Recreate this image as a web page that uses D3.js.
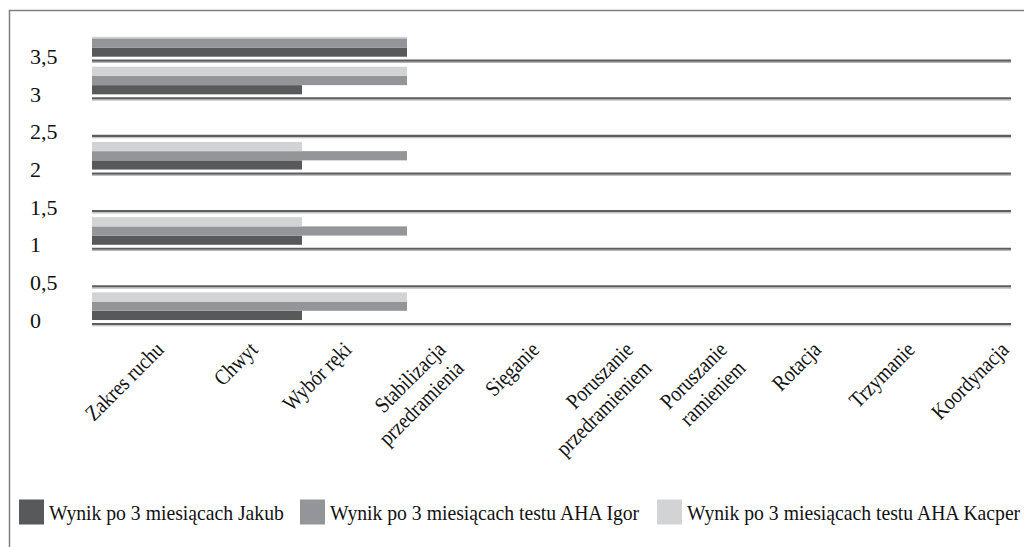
<!DOCTYPE html>
<html><head><meta charset="utf-8">
<script src="https://cdn.jsdelivr.net/npm/d3@7/dist/d3.min.js"></script>
<style>
html,body{margin:0;padding:0;background:#fff;}
svg{display:block;font-family:"Liberation Serif","Times New Roman",serif;}
</style></head>
<body>
<svg id="chart" width="1024" height="547"></svg>
<script>
// ---- data ----
const categories = ["Zakres ruchu","Chwyt","Wybór ręki","Stabilizacja\nprzedramienia","Sięganie",
  "Poruszanie\nprzedramieniem","Poruszanie\nramieniem","Rotacja","Trzymanie","Koordynacja"];
const seriesNames = ["Wynik po 3 miesiącach Jakub","Wynik po 3 miesiącach testu AHA Igor","Wynik po 3 miesiącach testu AHA Kacper"];
const seriesColors = ["#58595b","#939598","#d1d3d4"];
const yTicks = [0,0.5,1,1.5,2,2.5,3,3.5];
const groupBase = [0,1,2,3,3.5];           // y-value where each bar group sits
const jakub  = [2,2,2,2,3];
const igor   = [3,3,3,3,3];
const kacper = [3,2,2,3,3];

const svg = d3.select("#chart");
const plotLeft = 92, plotRight = 1011, plotTop = 36.7;
const textColor = "#111";

const y = d3.scaleLinear().domain([0,3.5]).range([324,60.7]);
const x = d3.scaleLinear().domain([0,3]).range([plotLeft,407]);
const inner = d3.scaleBand().domain(d3.range(seriesNames.length)).range([0.053,0.42]).padding(0);
const labelX = d3.scalePoint().domain(categories).range([165,1010]);

// frame
svg.append("rect").attr("x",9.5).attr("y",10.5).attr("width",1030).attr("height",560)
  .attr("fill","none").attr("stroke","#808080").attr("stroke-width",1.5);

// clip
svg.append("defs").append("clipPath").attr("id","plotclip").append("rect")
  .attr("x",plotLeft).attr("y",plotTop).attr("width",plotRight-plotLeft).attr("height",y(0)-plotTop+2);

// gridlines
const grid = svg.append("g");
grid.selectAll("line.g1").data(yTicks).join("line").attr("class","g1")
  .attr("x1",plotLeft).attr("x2",plotRight).attr("y1",d=>y(d)).attr("y2",d=>y(d))
  .attr("stroke","#5e5e5e").attr("stroke-width",2.2);
grid.selectAll("line.g2").data(yTicks).join("line").attr("class","g2")
  .attr("x1",plotLeft).attr("x2",plotRight).attr("y1",d=>y(d)+1.8).attr("y2",d=>y(d)+1.8)
  .attr("stroke","#b5b5b5").attr("stroke-width",1);

// bars
const seriesVals = [jakub, igor, kacper];
const bars = [];
groupBase.forEach((b,gi)=>{
  seriesVals.forEach((vals,si)=>{
    bars.push({base:b, s:si, v:vals[gi]});
  });
});
svg.append("g").attr("clip-path","url(#plotclip)")
  .selectAll("rect").data(bars).join("rect")
  .attr("x",x(0))
  .attr("width",d=>x(d.v)-x(0))
  .attr("y",d=>y(d.base+inner(d.s)+inner.bandwidth()))
  .attr("height",d=>y(d.base+inner(d.s))-y(d.base+inner(d.s)+inner.bandwidth()))
  .attr("fill",d=>seriesColors[d.s]);

// y tick labels
svg.append("g").selectAll("text").data(yTicks).join("text")
  .attr("x",30).attr("y",d=>y(d)+3.5)
  .attr("font-size",22).attr("fill",textColor)
  .text(d=>String(d).replace(".",","));

// category labels
const lab = svg.append("g").selectAll("g").data(categories).join("g")
  .attr("transform",d=>`translate(${labelX(d)},351) rotate(-45) scale(0.87,1)`);
lab.each(function(d){
  const lines = d.split("\n");
  d3.select(this).selectAll("text").data(lines).join("text")
    .attr("x",0).attr("y",(l,i)=>i*26)
    .attr("text-anchor","end").attr("font-size",22).attr("fill",textColor)
    .text(l=>l);
});

// legend
const legX = [19,300,657];
const leg = svg.append("g").selectAll("g").data(seriesNames).join("g");
leg.append("rect").attr("x",(d,i)=>legX[i]).attr("y",499.5).attr("width",25).attr("height",25)
  .attr("fill",(d,i)=>seriesColors[i]);
leg.append("text").attr("transform",(d,i)=>`translate(${legX[i]+30},520) scale(0.895,1)`)
  .attr("font-size",22).attr("fill",textColor).text(d=>d);
</script>
</body></html>
